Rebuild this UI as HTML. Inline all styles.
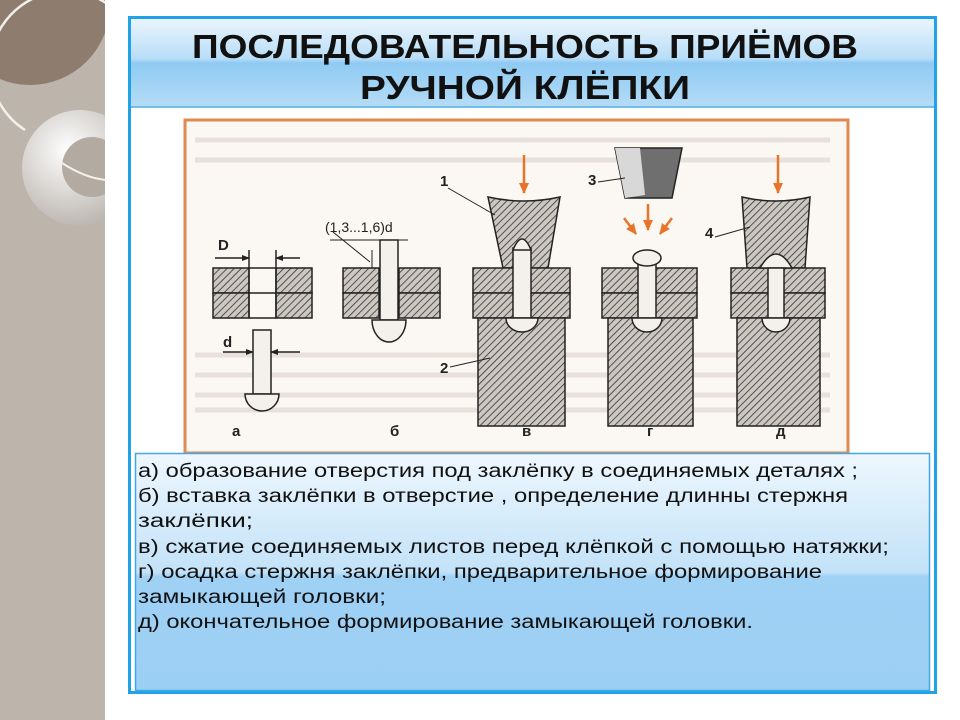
<!DOCTYPE html>
<html><head><meta charset="utf-8"><style>
html,body{margin:0;padding:0;background:#fff;}
svg{display:block;}
</style></head><body>
<svg width="960" height="720" viewBox="0 0 960 720" xmlns="http://www.w3.org/2000/svg" font-family="Liberation Sans, sans-serif">
<defs>
<pattern id="h" width="5" height="5" patternUnits="userSpaceOnUse" patternTransform="rotate(45)">
<rect width="5" height="5" fill="#cdc7c1"/><line x1="0" y1="0" x2="0" y2="5" stroke="#333" stroke-width="1.6"/>
</pattern>
<linearGradient id="tg" x1="0" y1="0" x2="0" y2="1">
<stop offset="0" stop-color="#eaf5fd"/><stop offset="0.45" stop-color="#b9ddf7"/><stop offset="0.5" stop-color="#8fcaf3"/><stop offset="1" stop-color="#b5dcf6"/>
</linearGradient>
<linearGradient id="bg2" x1="0" y1="0" x2="0" y2="1">
<stop offset="0" stop-color="#eef7fe"/><stop offset="0.5" stop-color="#c3e2f8"/><stop offset="0.52" stop-color="#9fd1f5"/><stop offset="1" stop-color="#9ccff4"/>
</linearGradient>
<radialGradient id="ring" cx="0.4" cy="0.35" r="0.7">
<stop offset="0" stop-color="#ffffff"/><stop offset="1" stop-color="#b8b2ac"/>
</radialGradient>
<clipPath id="lc"><rect x="0" y="0" width="105" height="720"/></clipPath>
<marker id="ar" markerUnits="userSpaceOnUse" markerWidth="12" markerHeight="12" refX="10" refY="6" orient="auto"><path d="M0,1 L11,6 L0,11 z" fill="#e8742a"/></marker>
<marker id="ak" markerUnits="userSpaceOnUse" markerWidth="8" markerHeight="8" refX="7" refY="4" orient="auto"><path d="M0,1 L8,4 L0,7 z" fill="#222"/></marker>
</defs>

<!-- left texture -->
<g clip-path="url(#lc)">
<rect x="0" y="0" width="105" height="720" fill="#bdb4ab"/>
<circle cx="30" cy="5" r="80" fill="#8e7d6e"/>
<path d="M106,3 A75,75 0 0 0 25,130" stroke="#f3f0ec" stroke-width="2.5" fill="none"/>
<circle cx="80" cy="168" r="58" fill="url(#ring)"/>
<circle cx="92" cy="167" r="30" fill="#b3aaa1"/>
<path d="M62,163 Q85,178 106,180" stroke="#f3f0ec" stroke-width="2" fill="none"/>
</g>

<!-- outer frame -->
<rect x="129.5" y="17.5" width="806" height="675" fill="#fff" stroke="#1fa3e6" stroke-width="3"/>
<rect x="131" y="19" width="803" height="88" fill="url(#tg)"/>
<line x1="131" y1="107" x2="934" y2="107" stroke="#4fb0e6" stroke-width="1.5"/>
<text x="525" y="58" text-anchor="middle" font-size="33" font-weight="bold" fill="#111" textLength="666" lengthAdjust="spacingAndGlyphs">ПОСЛЕДОВАТЕЛЬНОСТЬ ПРИЁМОВ</text>
<text x="525" y="99" text-anchor="middle" font-size="33" font-weight="bold" fill="#111" textLength="330" lengthAdjust="spacingAndGlyphs">РУЧНОЙ КЛЁПКИ</text>

<!-- image -->
<rect x="185" y="120" width="663" height="333" fill="#fbf7f3" stroke="#e08a52" stroke-width="3"/>
<g stroke="#ddd3cc" stroke-width="5" opacity="0.6">
<line x1="195" y1="140" x2="830" y2="140"/><line x1="195" y1="160" x2="830" y2="160"/>
<line x1="195" y1="355" x2="830" y2="355"/><line x1="195" y1="375" x2="830" y2="375"/><line x1="195" y1="395" x2="830" y2="395"/><line x1="195" y1="410" x2="830" y2="410"/>
</g>
<g stroke="#222" stroke-width="1.5">
<!-- a -->
<rect x="213" y="268" width="36" height="25" fill="url(#h)"/><rect x="213" y="293" width="36" height="25" fill="url(#h)"/>
<rect x="276" y="268" width="36" height="25" fill="url(#h)"/><rect x="276" y="293" width="36" height="25" fill="url(#h)"/>
<line x1="249" y1="268" x2="276" y2="268"/><line x1="249" y1="293" x2="276" y2="293"/><line x1="249" y1="318" x2="276" y2="318"/>
<line x1="249" y1="250" x2="249" y2="318"/><line x1="276" y1="250" x2="276" y2="318"/>
<line x1="215" y1="258" x2="249" y2="258" marker-end="url(#ak)"/><line x1="300" y1="258" x2="276" y2="258" marker-end="url(#ak)"/>
<rect x="253" y="330" width="18" height="64" fill="#f4f0ec"/>
<path d="M245,394 L279,394 A17,17 0 0 1 245,394 Z" fill="#f4f0ec"/>
<line x1="223" y1="352" x2="253" y2="352" marker-end="url(#ak)"/><line x1="300" y1="352" x2="271" y2="352" marker-end="url(#ak)"/>
<!-- b -->
<rect x="343" y="268" width="36" height="25" fill="url(#h)"/><rect x="343" y="293" width="36" height="25" fill="url(#h)"/>
<rect x="399" y="268" width="41" height="25" fill="url(#h)"/><rect x="399" y="293" width="41" height="25" fill="url(#h)"/>
<rect x="380" y="240" width="18" height="80" fill="#f4f0ec"/>
<path d="M372,320 L406,320 A17,22 0 0 1 372,320 Z" fill="#f4f0ec"/>
<line x1="330" y1="240" x2="408" y2="240" stroke-width="1"/>
<line x1="372" y1="250" x2="372" y2="268" stroke-width="1"/>
<line x1="333" y1="232" x2="370" y2="262" stroke-width="1"/>
<!-- c -->
<path d="M488,197 Q524,205 560,197 L548,268 L503,268 Z" fill="url(#h)"/>
<rect x="473" y="268" width="97" height="25" fill="url(#h)"/><rect x="473" y="293" width="97" height="25" fill="url(#h)"/>
<rect x="478" y="318" width="87" height="108" fill="url(#h)"/>
<rect x="513" y="248" width="18" height="70" fill="#f4f0ec"/>
<path d="M513,250 Q522,228 531,250 Z" fill="#f4f0ec"/>
<path d="M506,318 L538,318 A16,14 0 0 1 506,318 Z" fill="#f4f0ec"/>
<line x1="448" y1="188" x2="495" y2="215" stroke-width="1"/>
<line x1="450" y1="367" x2="490" y2="358" stroke-width="1"/>
<!-- d -->
<path d="M615,148 L682,148 L672,198 L625,198 Z" fill="#6f6f6f"/>
<path d="M615,148 L640,148 L645,195 L625,198 Z" fill="#d8d8d8" stroke="none"/>
<rect x="602" y="268" width="95" height="25" fill="url(#h)"/><rect x="602" y="293" width="95" height="25" fill="url(#h)"/>
<rect x="608" y="318" width="85" height="108" fill="url(#h)"/>
<rect x="638" y="262" width="18" height="56" fill="#f4f0ec"/>
<ellipse cx="647" cy="258" rx="14" ry="8" fill="#f4f0ec"/>
<path d="M632,318 L662,318 A15,14 0 0 1 632,318 Z" fill="#f4f0ec"/>
<line x1="598" y1="182" x2="625" y2="178" stroke-width="1"/>
<!-- e -->
<path d="M742,197 Q776,205 810,197 L805,268 L747,268 Z" fill="url(#h)"/>
<rect x="731" y="268" width="94" height="25" fill="url(#h)"/><rect x="731" y="293" width="94" height="25" fill="url(#h)"/>
<rect x="737" y="318" width="83" height="108" fill="url(#h)"/>
<path d="M760,268 Q776,240 792,268 Z" fill="#f4f0ec"/>
<rect x="768" y="268" width="16" height="50" fill="#f4f0ec"/>
<path d="M762,318 L790,318 A14,14 0 0 1 762,318 Z" fill="#f4f0ec"/>
<line x1="715" y1="237" x2="750" y2="227" stroke-width="1"/>
</g>
<g stroke="#e8742a" stroke-width="2.5">
<line x1="524" y1="155" x2="524" y2="193" marker-end="url(#ar)"/>
<line x1="778" y1="155" x2="778" y2="193" marker-end="url(#ar)"/>
<line x1="648" y1="204" x2="648" y2="230" marker-end="url(#ar)"/>
<line x1="624" y1="218" x2="636" y2="234" marker-end="url(#ar)"/>
<line x1="672" y1="218" x2="660" y2="234" marker-end="url(#ar)"/>
</g>
<g font-size="15" font-weight="bold" fill="#222">
<text x="218" y="250">D</text><text x="223" y="347">d</text>
<text x="325" y="232" font-weight="normal" font-size="14">(1,3...1,6)d</text>
<text x="440" y="186">1</text><text x="440" y="373">2</text><text x="588" y="185">3</text><text x="705" y="238">4</text>
<text x="232" y="436">а</text><text x="390" y="436">б</text><text x="522" y="436">в</text><text x="647" y="436">г</text><text x="776" y="436">д</text>
</g>

<!-- text box -->
<rect x="135.5" y="453.5" width="794" height="237" fill="url(#bg2)" stroke="#40a8e6" stroke-width="1.5"/>
<g font-size="19" fill="#111" font-family="Liberation Sans Narrow, Liberation Sans, sans-serif">
<text x="138" y="477" textLength="720" lengthAdjust="spacingAndGlyphs">а) образование отверстия под заклёпку в соединяемых деталях ;</text>
<text x="138" y="502" textLength="710" lengthAdjust="spacingAndGlyphs">б) вставка заклёпки в отверстие , определение длинны стержня</text>
<text x="138" y="527" textLength="115" lengthAdjust="spacingAndGlyphs">заклёпки;</text>
<text x="138" y="553" textLength="751" lengthAdjust="spacingAndGlyphs">в) сжатие соединяемых листов перед клёпкой с помощью натяжки;</text>
<text x="138" y="578" textLength="684" lengthAdjust="spacingAndGlyphs">г) осадка стержня заклёпки, предварительное формирование</text>
<text x="138" y="603" textLength="248" lengthAdjust="spacingAndGlyphs">замыкающей головки;</text>
<text x="138" y="628" textLength="615" lengthAdjust="spacingAndGlyphs">д) окончательное формирование замыкающей головки.</text>
</g>
</svg>
</body></html>
